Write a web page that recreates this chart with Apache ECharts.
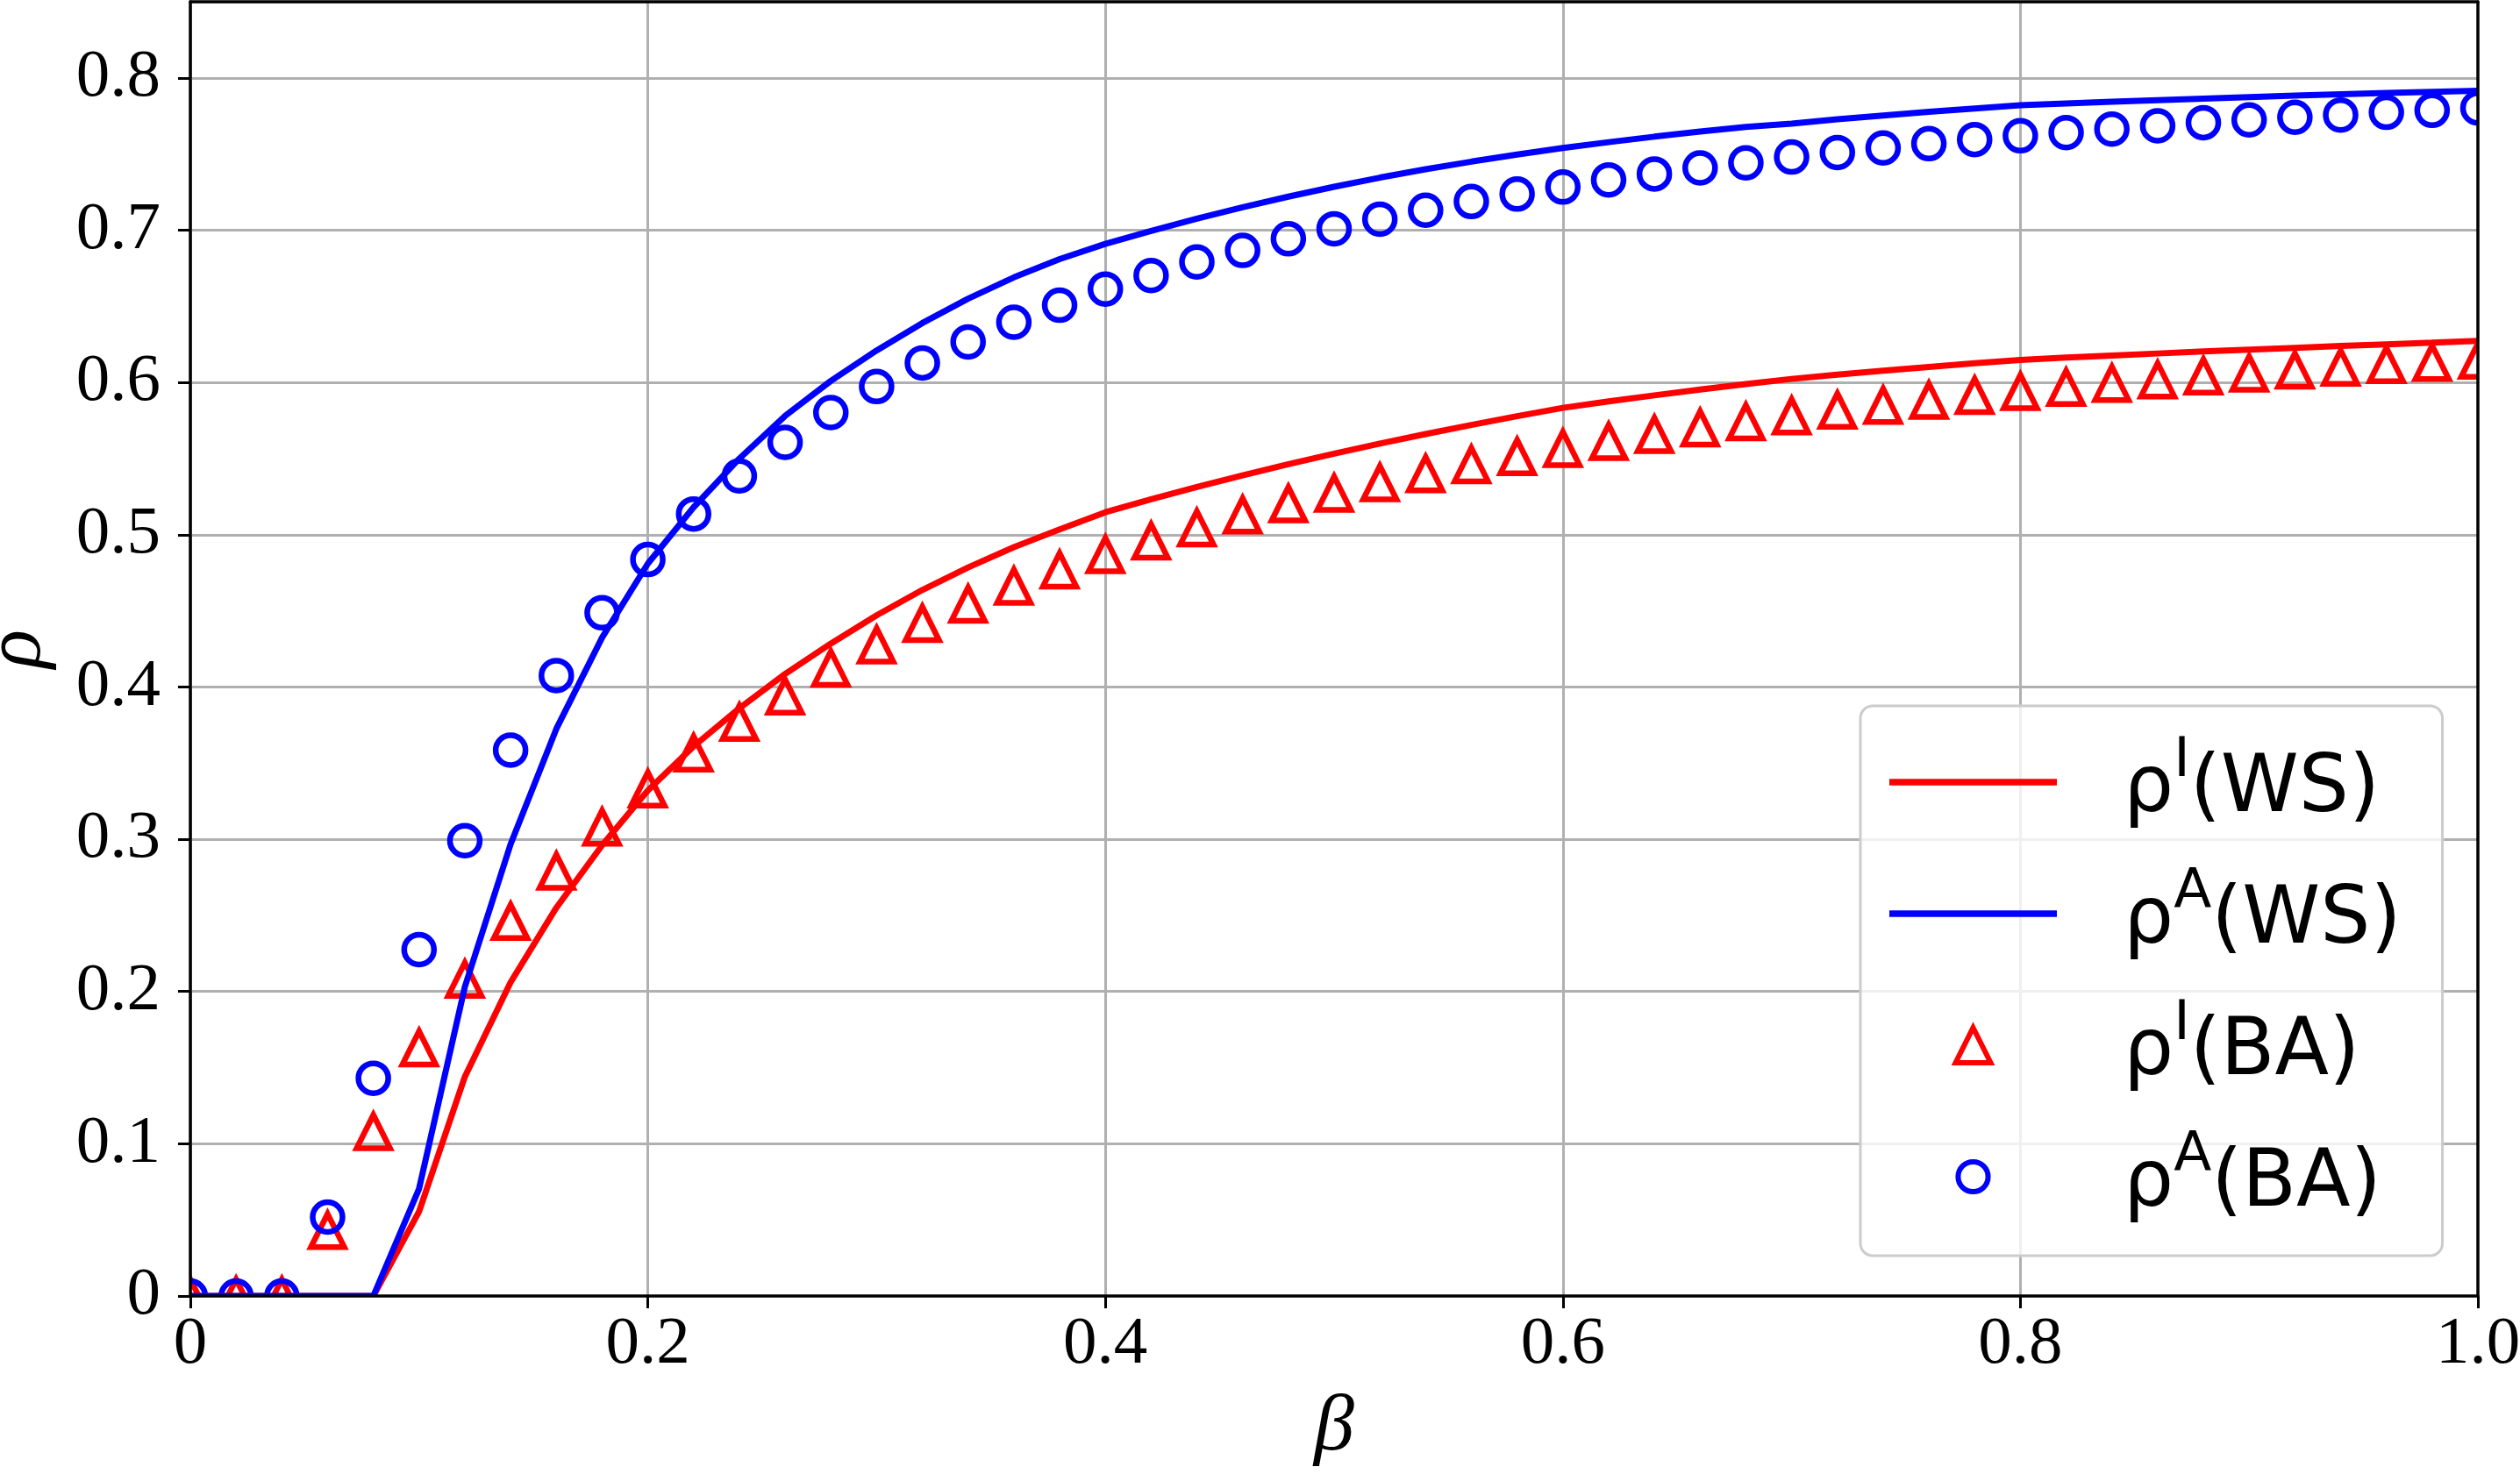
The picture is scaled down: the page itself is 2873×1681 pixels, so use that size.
<!DOCTYPE html>
<html>
<head>
<meta charset="utf-8">
<script src="https://cdn.jsdelivr.net/npm/echarts@6/dist/echarts.min.js"></script>
<style>
  html, body { margin: 0; padding: 0; background: #fff; }
  #chart { width: 2873px; height: 1681px; }
</style>
</head>
<body>
<div id="chart"></div>
<script>
// beta grid (x values of every point)
var betaValues = [0, 0.02, 0.04, 0.06, 0.08, 0.1, 0.12, 0.14, 0.16, 0.18,
  0.2, 0.22, 0.24, 0.26, 0.28, 0.3, 0.32, 0.34, 0.36, 0.38,
  0.4, 0.42, 0.44, 0.46, 0.48, 0.5, 0.52, 0.54, 0.56, 0.58,
  0.6, 0.62, 0.64, 0.66, 0.68, 0.7, 0.72, 0.74, 0.76, 0.78,
  0.8, 0.82, 0.84, 0.86, 0.88, 0.9, 0.92, 0.94, 0.96, 0.98, 1.0];

// rho^I on WS (red line)
var rhoIWS = [0, 0, 0, 0, 0, 0.0555, 0.144, 0.206, 0.255, 0.296,
  0.332, 0.361, 0.386, 0.4085, 0.4285, 0.447, 0.4637, 0.4785, 0.4918, 0.5035,
  0.5147, 0.5232, 0.5313, 0.539, 0.5463, 0.5532, 0.5598, 0.5661, 0.5721, 0.5778,
  0.5833, 0.5875, 0.5915, 0.5953, 0.5989, 0.6023, 0.6051, 0.6077, 0.6102, 0.6126,
  0.6148, 0.6163, 0.6177, 0.619, 0.6203, 0.6215, 0.6227, 0.6239, 0.625, 0.6261, 0.6273];

// rho^A on WS (blue line)
var rhoAWS = [0, 0, 0, 0, 0, 0.0705, 0.203, 0.2967, 0.3725, 0.4324,
  0.481, 0.518, 0.55, 0.578, 0.601, 0.621, 0.639, 0.655, 0.669, 0.681,
  0.691, 0.6995, 0.7075, 0.715, 0.722, 0.7285, 0.7345, 0.74, 0.745, 0.7497,
  0.754, 0.7578, 0.7614, 0.7648, 0.7678, 0.77, 0.7728, 0.7753, 0.7777, 0.7799,
  0.782, 0.7832, 0.7843, 0.7854, 0.7864, 0.7874, 0.7884, 0.7893, 0.7901, 0.7908, 0.7915];

// rho^I on BA (red triangles)
var rhoIBA = [0, 0, 0, 0.043, 0.108, 0.163, 0.208, 0.246, 0.279, 0.308,
  0.333, 0.3566, 0.3768, 0.394, 0.4124, 0.4276, 0.4417, 0.4544, 0.4662, 0.4769,
  0.4869, 0.4958, 0.5044, 0.513, 0.5203, 0.5272, 0.5341, 0.54, 0.546, 0.5513,
  0.5566, 0.5612, 0.5658, 0.5701, 0.5741, 0.578, 0.5818, 0.585, 0.5883, 0.5914,
  0.594, 0.5967, 0.5994, 0.6017, 0.6042, 0.6061, 0.6081, 0.61, 0.6117, 0.6132, 0.6146];

// rho^A on BA (blue circles)
var rhoABA = [0, 0, 0, 0.0518, 0.143, 0.2275, 0.299, 0.3585, 0.4075, 0.4487,
  0.4837, 0.5136, 0.5386, 0.5606, 0.5802, 0.5973, 0.6128, 0.6266, 0.6395, 0.6507,
  0.6613, 0.6702, 0.6791, 0.6867, 0.6943, 0.7009, 0.7072, 0.7131, 0.7188, 0.7237,
  0.7283, 0.733, 0.7369, 0.7409, 0.7442, 0.748, 0.751, 0.754, 0.7568, 0.7595,
  0.762, 0.7641, 0.7664, 0.7685, 0.7706, 0.7724, 0.7741, 0.7756, 0.7774, 0.7787, 0.7802];

var xTicks = [0, 0.2, 0.4, 0.6, 0.8, 1.0];
var xTickLabels = ['0', '0.2', '0.4', '0.6', '0.8', '1.0'];
var yTicks = [0, 0.1, 0.2, 0.3, 0.4, 0.5, 0.6, 0.7, 0.8];
var yTickLabels = ['0', '0.1', '0.2', '0.3', '0.4', '0.5', '0.6', '0.7', '0.8'];

var seriesNames = ['ρI(WS)', 'ρA(WS)', 'ρI(BA)', 'ρA(BA)'];

function pairs(ys) {
  return betaValues.map(function (b, i) { return [b, ys[i]]; });
}

var W = 2873, H = 1681;
var gridL = 217, gridR = 48, gridT = 2, gridB = 203;
var serif = 'Liberation Serif';
var tickFont = 77;

// legend icons: a flat bar for the lines, equal-sided triangle, and a circle with some slack round it
var lineIcon = 'path://M0,0h191v7.5h-191z';
var triIcon = 'path://M0,-1L1,1L-1,1Z';
var circIcon = 'path://M-1.17,-1.17M1.17,1.17M1,0A1,1 0 1 1 -1,0A1,1 0 1 1 1,0Z';

var chart = echarts.init(document.getElementById('chart'), null, { renderer: 'canvas' });

var option = {
  animation: false,
  backgroundColor: '#fff',
  grid: { left: gridL, right: gridR, top: gridT, bottom: gridB, containLabel: false, outerBoundsMode: 'none' },
  // 坐标轴：0 只画网格线，1 画刻度/标签，2 画上/右边框
  xAxis: [{
    type: 'value', min: 0, max: 1, interval: 0.2, position: 'bottom',
    axisLine: { show: false }, axisTick: { show: false }, axisLabel: { show: false },
    splitLine: { show: true, lineStyle: { color: '#b0b0b0', width: 3 } }
  }, {
    type: 'value', min: 0, max: 1, interval: 0.2, position: 'bottom', z: 10,
    axisLine: { show: true, onZero: false, lineStyle: { color: '#000', width: 3.5 } },
    axisTick: { show: true, inside: false, length: 14, customValues: xTicks, lineStyle: { color: '#000', width: 3 } },
    axisLabel: {
      show: true, margin: 17, color: '#000', fontFamily: serif, fontSize: tickFont,
      customValues: xTicks,
      formatter: function (v) {
        var i = xTicks.indexOf(v);
        return i >= 0 ? xTickLabels[i] : '';
      }
    },
    splitLine: { show: false },
    name: 'β', nameLocation: 'middle', nameGap: 105,
    nameTextStyle: { color: '#000', fontFamily: serif, fontStyle: 'italic', fontSize: 92 }
  }, {
    type: 'value', min: 0, max: 1, position: 'top', z: 10,
    axisLine: { show: true, onZero: false, lineStyle: { color: '#000', width: 3.5 } },
    axisTick: { show: false }, axisLabel: { show: false }, splitLine: { show: false }
  }],
  yAxis: [{
    type: 'value', min: 0, max: 0.85, interval: 0.1, position: 'left',
    axisLine: { show: false }, axisTick: { show: false }, axisLabel: { show: false },
    splitLine: { show: true, lineStyle: { color: '#b0b0b0', width: 3 } }
  }, {
    type: 'value', min: 0, max: 0.85, interval: 0.1, position: 'left', z: 10,
    axisLine: { show: true, onZero: false, lineStyle: { color: '#000', width: 3.5 } },
    axisTick: { show: true, inside: false, length: 14, customValues: yTicks, lineStyle: { color: '#000', width: 3 } },
    axisLabel: {
      show: true, margin: 34, color: '#000', fontFamily: serif, fontSize: tickFont,
      customValues: yTicks,
      formatter: function (v) {
        for (var i = 0; i < yTicks.length; i++) {
          if (Math.abs(yTicks[i] - v) < 1e-6) return yTickLabels[i];
        }
        return '';
      }
    },
    splitLine: { show: false },
    name: 'ρ', nameLocation: 'middle', nameGap: 150,
    nameTextStyle: { color: '#000', fontFamily: serif, fontStyle: 'italic', fontSize: 92 }
  }, {
    type: 'value', min: 0, max: 0.85, position: 'right', z: 10,
    axisLine: { show: true, onZero: false, lineStyle: { color: '#000', width: 3.5 } },
    axisTick: { show: false }, axisLabel: { show: false }, splitLine: { show: false }
  }],
  // 白色遮罩：把超出绘图区的半个标记盖掉
  graphic: [
    { type: 'rect', z: 5, silent: true, shape: { x: 0, y: H - gridB, width: W, height: gridB }, style: { fill: '#fff' } },
    { type: 'rect', z: 5, silent: true, shape: { x: 0, y: 0, width: gridL, height: H }, style: { fill: '#fff' } },
    { type: 'rect', z: 5, silent: true, shape: { x: W - gridR, y: 0, width: gridR, height: H }, style: { fill: '#fff' } },
    { type: 'rect', z: 5, silent: true, shape: { x: 0, y: 0, width: W, height: gridT }, style: { fill: '#fff' } }
  ],
  legend: {
    orient: 'vertical',
    left: 2121, top: 805,
    padding: [32, 47, 35, 33],
    itemWidth: 191, itemHeight: 40, itemGap: 40,
    backgroundColor: 'rgba(255,255,255,0.8)',
    borderColor: '#cccccc', borderWidth: 3, borderRadius: 14,
    selectedMode: false,
    data: [
      { name: seriesNames[0], icon: lineIcon, itemStyle: { color: '#ff0000', borderWidth: 0 } },
      { name: seriesNames[1], icon: lineIcon, itemStyle: { color: '#0000ff', borderWidth: 0 } },
      { name: seriesNames[2], icon: triIcon, itemStyle: { color: 'rgba(255,255,255,0)', borderColor: '#ff0000', borderWidth: 6 } },
      { name: seriesNames[3], icon: circIcon, itemStyle: { color: 'rgba(255,255,255,0)', borderColor: '#0000ff', borderWidth: 6 } }
    ],
    formatter: function (name) {
      return '{g| }{m|ρ}{s|' + name.charAt(1) + '}{m|' + name.slice(2) + '}';
    },
    textStyle: {
      color: '#000', fontFamily: 'DejaVu Sans', fontSize: 90,
      rich: {
        g: { width: 71 },
        m: { fontFamily: 'DejaVu Sans', fontSize: 90, lineHeight: 110, verticalAlign: 'bottom', color: '#000' },
        s: { fontFamily: 'DejaVu Sans', fontSize: 63, lineHeight: 63, verticalAlign: 'top', color: '#000' }
      }
    }
  },
  series: [{
    name: seriesNames[0], type: 'line', xAxisIndex: 0, yAxisIndex: 0,
    symbol: 'none', data: pairs(rhoIWS),
    lineStyle: { color: '#ff0000', width: 7 }, itemStyle: { color: '#ff0000' }
  }, {
    name: seriesNames[1], type: 'line', xAxisIndex: 0, yAxisIndex: 0,
    symbol: 'none', data: pairs(rhoAWS),
    lineStyle: { color: '#0000ff', width: 7 }, itemStyle: { color: '#0000ff' }
  }, {
    name: seriesNames[2], type: 'scatter', xAxisIndex: 0, yAxisIndex: 0,
    symbol: 'triangle', symbolSize: 38, data: pairs(rhoIBA),
    itemStyle: { color: 'rgba(255,255,255,0)', borderColor: '#ff0000', borderWidth: 6.5, opacity: 1 }
  }, {
    name: seriesNames[3], type: 'scatter', xAxisIndex: 0, yAxisIndex: 0,
    symbol: 'circle', symbolSize: 34, data: pairs(rhoABA),
    itemStyle: { color: 'rgba(255,255,255,0)', borderColor: '#0000ff', borderWidth: 6.5, opacity: 1 }
  }]
};

chart.setOption(option);
</script>
</body>
</html>
